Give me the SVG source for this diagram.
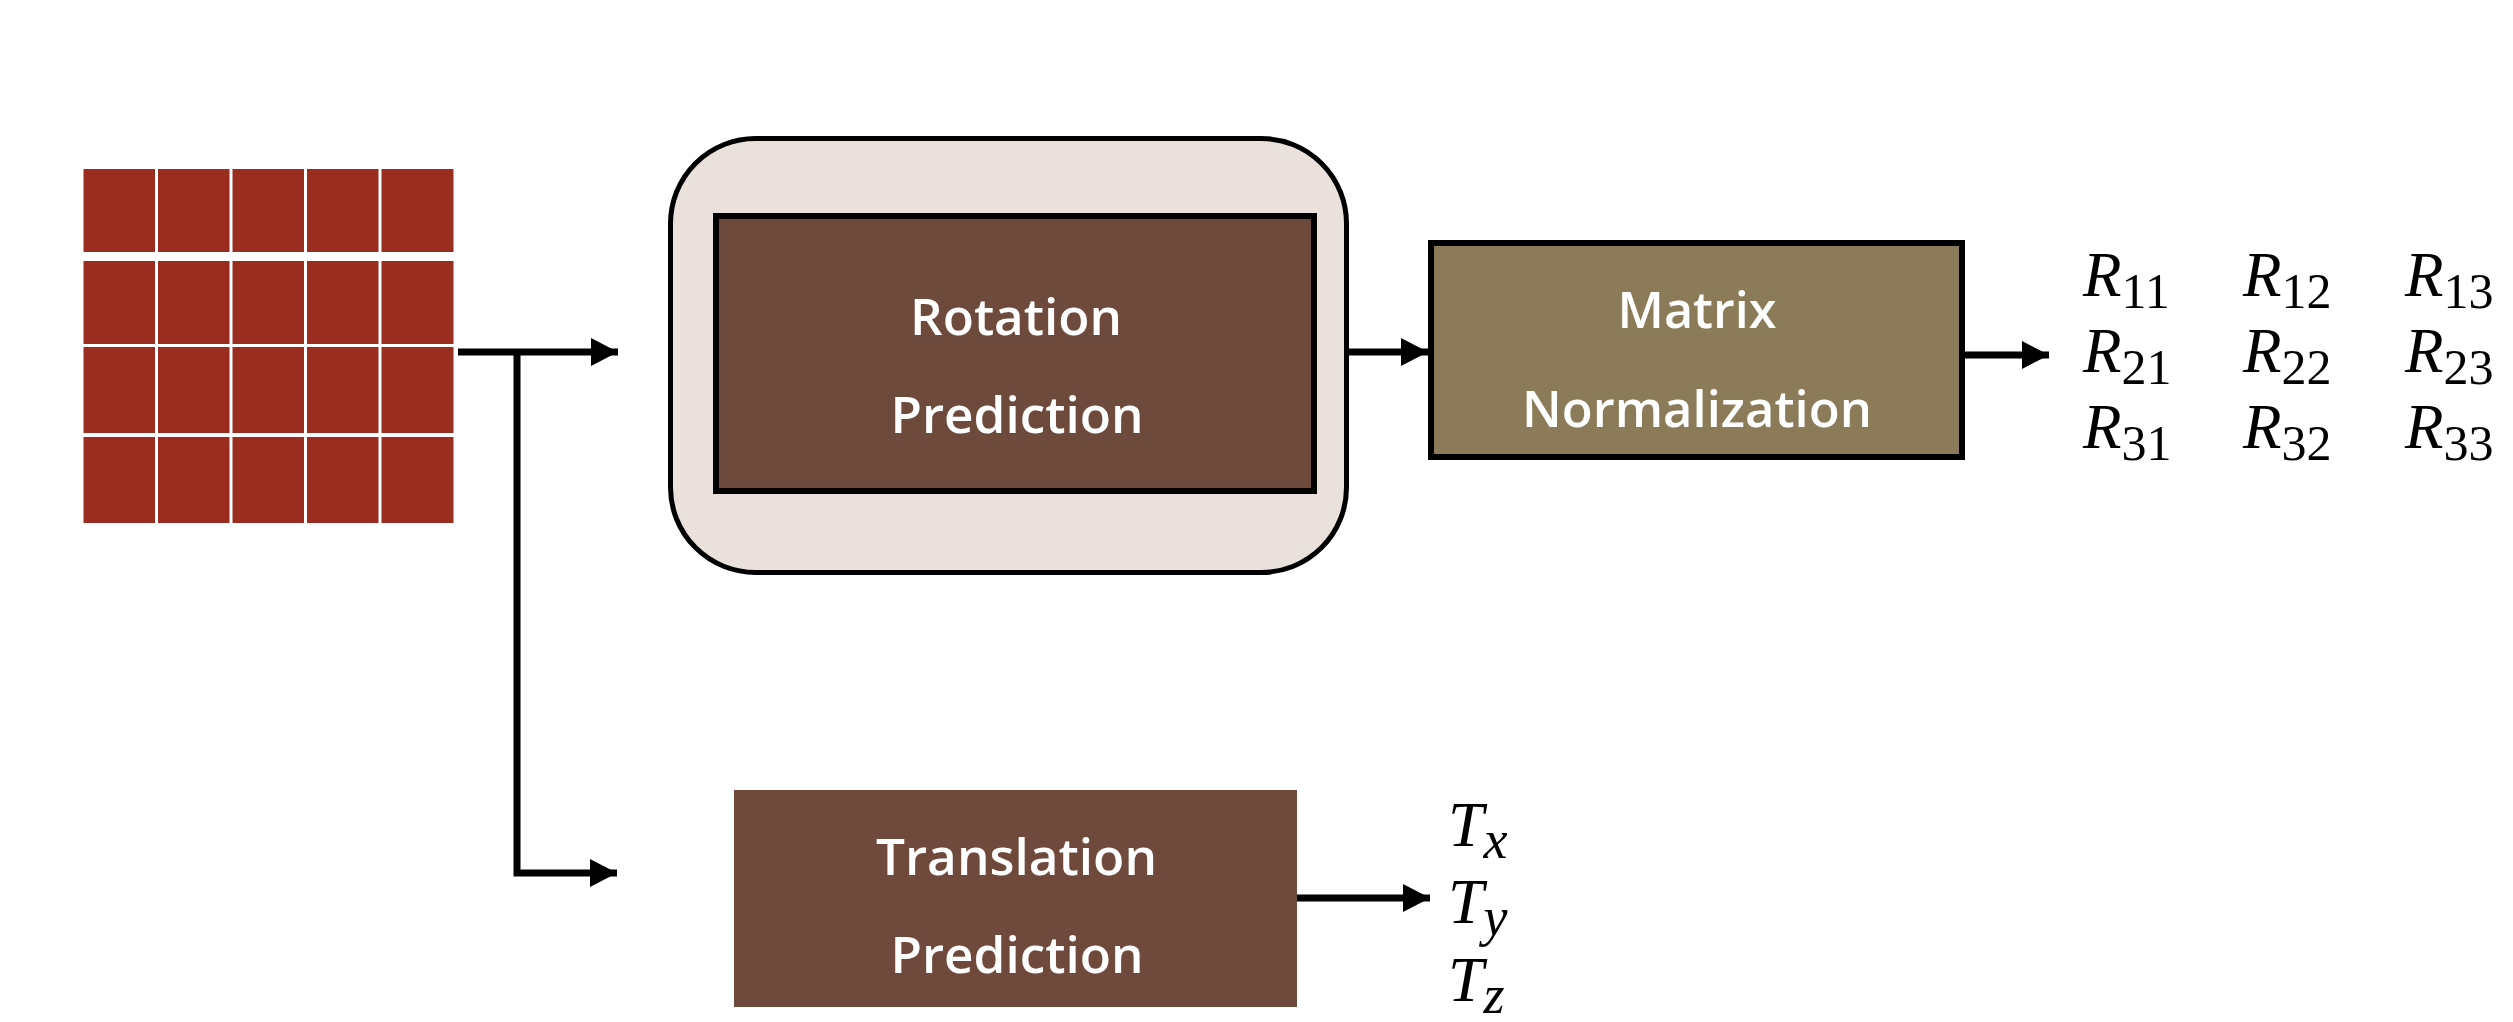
<svg xmlns="http://www.w3.org/2000/svg" width="2513" height="1022" viewBox="0 0 2513 1022">
<style>
.cell{fill:#9B2D20}
.lbl{font-family:"Open Sans","DejaVu Sans",sans-serif;font-weight:600;font-size:50px;fill:#ffffff;text-anchor:middle}
.ln{stroke:#000;stroke-width:7;fill:none}
.m{font-family:"Liberation Serif","Times New Roman",serif;fill:#000}
.mi{font-style:italic;font-size:63px}
.sub{font-size:50px}
.ti{font-style:italic;font-size:64px}
.tsub{font-style:italic;font-size:54px}
</style>
<defs>
<marker id="ah" markerUnits="userSpaceOnUse" markerWidth="28" markerHeight="28" refX="27" refY="14" orient="auto">
<path d="M0,0 L27,14 L0,28 Z" fill="#000"/>
</marker>
</defs>
<rect width="2513" height="1022" fill="#fff"/>
<g id="input-grid">
<rect class="cell" x="83.5" y="169" width="71.5" height="83"/>
<rect class="cell" x="158" y="169" width="71.5" height="83"/>
<rect class="cell" x="232.5" y="169" width="71.5" height="83"/>
<rect class="cell" x="307" y="169" width="71.5" height="83"/>
<rect class="cell" x="381.5" y="169" width="72" height="83"/>
<rect class="cell" x="83.5" y="261" width="71.5" height="83"/>
<rect class="cell" x="158" y="261" width="71.5" height="83"/>
<rect class="cell" x="232.5" y="261" width="71.5" height="83"/>
<rect class="cell" x="307" y="261" width="71.5" height="83"/>
<rect class="cell" x="381.5" y="261" width="72" height="83"/>
<rect class="cell" x="83.5" y="347" width="71.5" height="86"/>
<rect class="cell" x="158" y="347" width="71.5" height="86"/>
<rect class="cell" x="232.5" y="347" width="71.5" height="86"/>
<rect class="cell" x="307" y="347" width="71.5" height="86"/>
<rect class="cell" x="381.5" y="347" width="72" height="86"/>
<rect class="cell" x="83.5" y="437" width="71.5" height="86"/>
<rect class="cell" x="158" y="437" width="71.5" height="86"/>
<rect class="cell" x="232.5" y="437" width="71.5" height="86"/>
<rect class="cell" x="307" y="437" width="71.5" height="86"/>
<rect class="cell" x="381.5" y="437" width="72" height="86"/>
</g>
<g id="rotation">
<rect x="670.5" y="138.5" width="676" height="434" rx="85" ry="85" fill="#EAE0DC" stroke="#000" stroke-width="5"/>
<rect x="716" y="216" width="598" height="275" fill="#6E4A3C" stroke="#000" stroke-width="6"/>
<text class="lbl" x="1016" y="335" textLength="212" lengthAdjust="spacingAndGlyphs">Rotation</text>
<text class="lbl" x="1017" y="433" textLength="253" lengthAdjust="spacingAndGlyphs">Prediction</text>
</g>
<g id="matrix-normalization">
<rect x="1431" y="243" width="531" height="214" fill="#8B7B58" stroke="#000" stroke-width="6"/>
<text class="lbl" x="1697" y="328" textLength="159" lengthAdjust="spacingAndGlyphs">Matrix</text>
<text class="lbl" x="1697" y="427" textLength="350" lengthAdjust="spacingAndGlyphs">Normalization</text>
</g>
<g id="translation">
<rect x="734" y="790" width="563" height="217" fill="#6F4A3C"/>
<text class="lbl" x="1016.5" y="875" textLength="281" lengthAdjust="spacingAndGlyphs">Translation</text>
<text class="lbl" x="1017" y="973" textLength="253" lengthAdjust="spacingAndGlyphs">Prediction</text>
</g>
<g id="rotation-output" class="m">
<text x="2083" y="296"><tspan class="mi">R</tspan><tspan class="sub" dy="12">11</tspan></text>
<text x="2243" y="296"><tspan class="mi">R</tspan><tspan class="sub" dy="12">12</tspan></text>
<text x="2405" y="296"><tspan class="mi">R</tspan><tspan class="sub" dy="12">13</tspan></text>
<text x="2083" y="372"><tspan class="mi">R</tspan><tspan class="sub" dy="12">21</tspan></text>
<text x="2243" y="372"><tspan class="mi">R</tspan><tspan class="sub" dy="12">22</tspan></text>
<text x="2405" y="372"><tspan class="mi">R</tspan><tspan class="sub" dy="12">23</tspan></text>
<text x="2083" y="448"><tspan class="mi">R</tspan><tspan class="sub" dy="12">31</tspan></text>
<text x="2243" y="448"><tspan class="mi">R</tspan><tspan class="sub" dy="12">32</tspan></text>
<text x="2405" y="448"><tspan class="mi">R</tspan><tspan class="sub" dy="12">33</tspan></text>
</g>
<g id="translation-output" class="m">
<text x="1448" y="846"><tspan class="ti">T</tspan><tspan class="tsub" dy="12">x</tspan></text>
<text x="1448" y="923"><tspan class="ti">T</tspan><tspan class="tsub" dy="12">y</tspan></text>
<text x="1448" y="1001"><tspan class="ti">T</tspan><tspan class="tsub" dy="12">z</tspan></text>
</g>
<g id="connectors">
<path class="ln" d="M458,352 H618" marker-end="url(#ah)"/>
<path class="ln" d="M517,352 V873 H617" marker-end="url(#ah)"/>
<path class="ln" d="M1347,352 H1428" marker-end="url(#ah)"/>
<path class="ln" d="M1962,355 H2049" marker-end="url(#ah)"/>
<path class="ln" d="M1297,898 H1430" marker-end="url(#ah)"/>
</g>
</svg>
